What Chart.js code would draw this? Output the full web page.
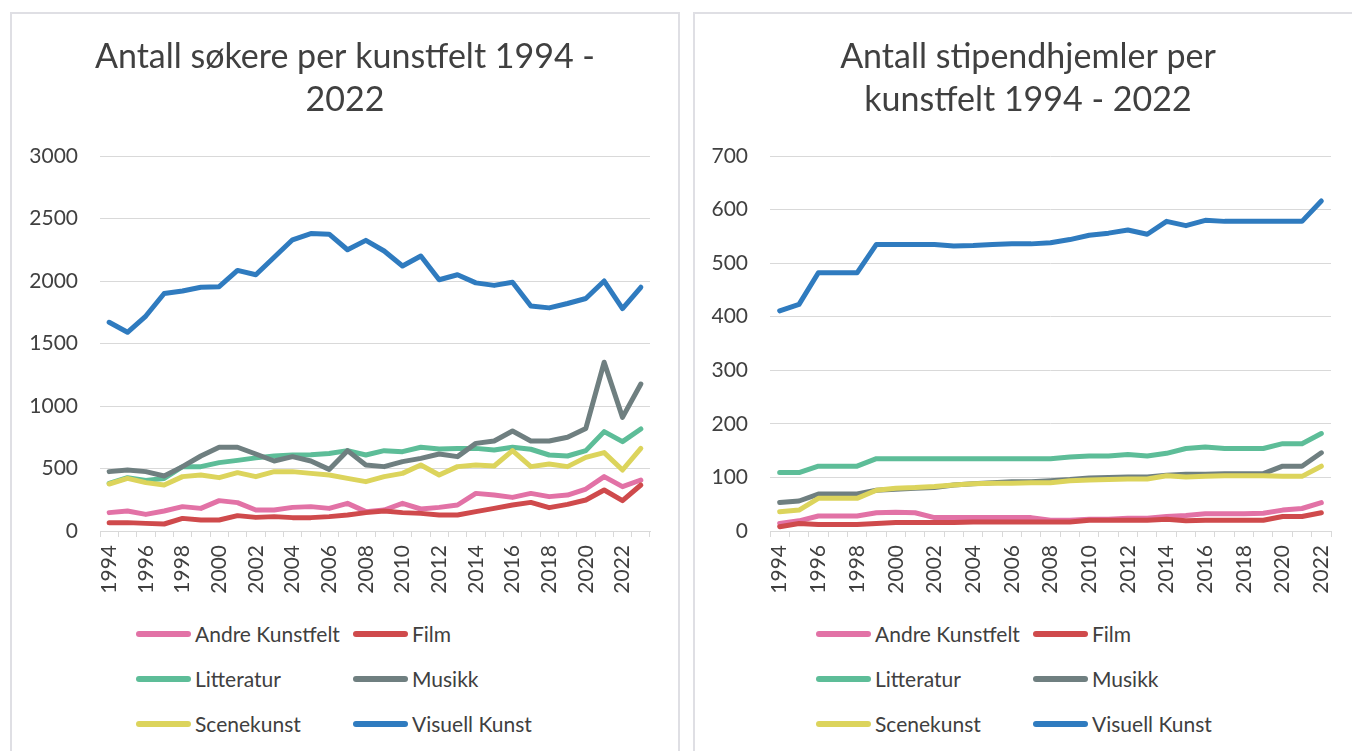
<!DOCTYPE html>
<html>
<head>
<meta charset="utf-8">
<script src="https://cdn.jsdelivr.net/npm/chart.js@4/dist/chart.umd.min.js"></script>
<style>
html,body{margin:0;padding:0;background:#fff;width:1352px;height:751px;overflow:hidden;font-family:Lato,"Open Sans",sans-serif;}
.panel{position:absolute;top:12px;height:770px;border:2px solid #dfdfe4;background:#fff;box-sizing:border-box;}
#p1{left:10px;width:670px;}
#p2{left:693px;width:670px;}
canvas{position:absolute;left:0;top:0;}
.legend{position:absolute;top:597px;display:grid;grid-template-columns:217px auto;}
#lg1{left:124px;}
#lg2{left:121px;}
.item{display:flex;align-items:center;height:45px;font-size:21px;color:#404040;white-space:nowrap;}
.sw{width:55px;height:6px;border-radius:3px;margin-right:4px;}
</style>
</head>
<body>
<div class="panel" id="p1"><canvas id="c1" width="666" height="586"></canvas><div class="legend" id="lg1"></div></div>
<div class="panel" id="p2"><canvas id="c2" width="666" height="586"></canvas><div class="legend" id="lg2"></div></div>
<script>
// ---------- data ----------
const seriesNames = ['Andre Kunstfelt','Film','Litteratur','Musikk','Scenekunst','Visuell Kunst'];
const seriesColors = ['#e272a6','#cf4a4c','#5dbd98','#6f7f80','#dcd45c','#2f7bbf'];

const yearsSokere = ['1994','1995','1996','1997','1998','1999','2000','2001','2002','2003','2004','2005','2006','2007','2008','2009','2010','2011','2012','2013','2014','2015','2016','2017','2018','2019','2020','2021','2022','2023'];
const andreSokere  = [147,160,133,160,195,181,243,227,168,168,189,195,181,221,155,168,221,176,189,208,301,288,269,301,275,288,336,435,355,408];
const filmSokere   = [67,67,61,56,101,88,88,123,109,115,107,107,115,128,147,160,147,141,128,128,155,181,208,229,187,213,248,328,243,368];
const littSokere   = [381,427,405,420,515,515,547,565,585,600,608,610,620,643,608,643,635,670,656,661,661,648,670,654,608,600,643,795,715,816];
const musikkSokere = [475,488,475,440,515,600,670,670,616,560,595,560,493,643,528,515,555,581,616,595,701,720,800,720,720,750,821,1350,909,1176];
const sceneSokere  = [376,421,387,368,435,448,427,467,435,475,475,461,448,421,395,435,461,528,448,515,528,520,643,515,536,515,589,627,488,661];
const visuellSokere= [1670,1590,1720,1900,1920,1950,1955,2085,2050,2190,2330,2380,2375,2250,2325,2240,2120,2200,2010,2050,1985,1965,1990,1800,1785,1820,1860,2000,1780,1950];

const yearsHjemler = ['1994','1995','1996','1997','1998','1999','2000','2001','2002','2003','2004','2005','2006','2007','2008','2009','2010','2011','2012','2013','2014','2015','2016','2017','2018','2019','2020','2021','2022'];
const andreHjemler  = [14,19,28,28,28,34,35,34,25,25,25,25,25,25,20,20,22,22,24,24,27,29,32,32,32,33,39,42,53];
const filmHjemler   = [8,14,12,12,12,14,16,16,16,16,17,17,17,17,17,17,20,20,20,20,22,19,20,20,20,20,27,27,34];
const littHjemler   = [109,109,121,121,121,135,135,135,135,135,135,135,135,135,135,138,140,140,143,140,145,154,157,154,154,154,163,163,182];
const musikkHjemler = [53,56,69,69,69,76,78,80,81,86,88,90,92,92,94,96,99,100,101,101,104,106,106,107,107,107,121,121,146];
const sceneHjemler  = [36,39,61,61,61,76,80,81,83,86,88,89,89,90,90,94,95,96,97,97,103,101,102,103,103,103,102,102,121];
const visuellHjemler= [411,423,482,482,482,535,535,535,535,532,533,535,536,536,538,544,552,556,562,554,578,570,580,578,578,578,578,578,616];

const titleSokere = ['Antall søkere per kunstfelt 1994 -','2022'];
const titleHjemler = ['Antall stipendhjemler per','kunstfelt 1994 - 2022'];
const yTicksSokere = {max:3000, step:500};
const yTicksHjemler = {max:700, step:100};

// ---------- chart ----------
const FONT = 'Lato, "Open Sans", sans-serif';
const TXT = '#404040';
const GRID = '#d9d9d9';

function makeChart(canvasId, legendId, labels, series, title, yt, yWidth, rightPad){
  const datasets = series.map((vals,i)=>({
    label: seriesNames[i],
    data: vals,
    borderColor: seriesColors[i],
    backgroundColor: seriesColors[i],
    borderWidth: 5,
    pointRadius: 0,
    tension: 0,
    fill: false,
    borderJoinStyle: 'round',
    borderCapStyle: 'round',
    order: series.length - i
  }));
  const chart = new Chart(document.getElementById(canvasId), {
    type: 'line',
    data: {labels: labels, datasets: datasets},
    options: {
      responsive: false,
      animation: false,
      devicePixelRatio: 1,
      layout: {padding: {left:0, right:0, top:0, bottom:0}},
      plugins: {
        legend: {display:false},
        tooltip: {enabled:false},
        title: {
          display: true,
          text: title,
          color: TXT,
          font: {family: FONT, size: 34, weight: 'normal', lineHeight: 1.265},
          padding: {top: 21.5, bottom: 34.5}
        }
      },
      scales: {
        x: {
          type: 'category',
          offset: true,
          grid: {display:true, drawOnChartArea:false, drawTicks:true, tickLength:6, offset:true, color:GRID},
          border: {display:true, color:GRID},
          ticks: {
            autoSkip:false, maxRotation:90, minRotation:90, padding:8,
            color: TXT, font: {family: FONT, size: 21},
            callback: (v,i)=> (i%2===0 ? labels[i] : '')
          },
          afterFit: s => { s.height = 69; }
        },
        y: {
          min: 0, max: yt.max,
          ticks: {stepSize: yt.step, padding: 22, color: TXT, font:{family: FONT, size: 21}, callback: v => String(v)},
          grid: {color: GRID, drawTicks:false, lineWidth:1},
          border: {display:false},
          afterFit: s => { s.width = yWidth; }
        },
        pad: {
          type: 'linear',
          position: 'right',
          display: true,
          grid: {display:false},
          ticks: {display:false},
          border: {display:false},
          afterFit: s => { s.width = rightPad; }
        }
      }
    }
  });
  // legend built from the chart's datasets
  const lg = document.getElementById(legendId);
  chart.data.datasets.forEach(ds=>{
    const it = document.createElement('div');
    it.className = 'item';
    const sw = document.createElement('span');
    sw.className = 'sw';
    sw.style.background = ds.borderColor;
    const tx = document.createElement('span');
    tx.textContent = ds.label;
    it.appendChild(sw); it.appendChild(tx);
    lg.appendChild(it);
  });
  return chart;
}

makeChart('c1','lg1', yearsSokere,
  [andreSokere, filmSokere, littSokere, musikkSokere, sceneSokere, visuellSokere],
  titleSokere, yTicksSokere, 88, 28);
makeChart('c2','lg2', yearsHjemler,
  [andreHjemler, filmHjemler, littHjemler, musikkHjemler, sceneHjemler, visuellHjemler],
  titleHjemler, yTicksHjemler, 75, 30);
</script>
</body>
</html>
